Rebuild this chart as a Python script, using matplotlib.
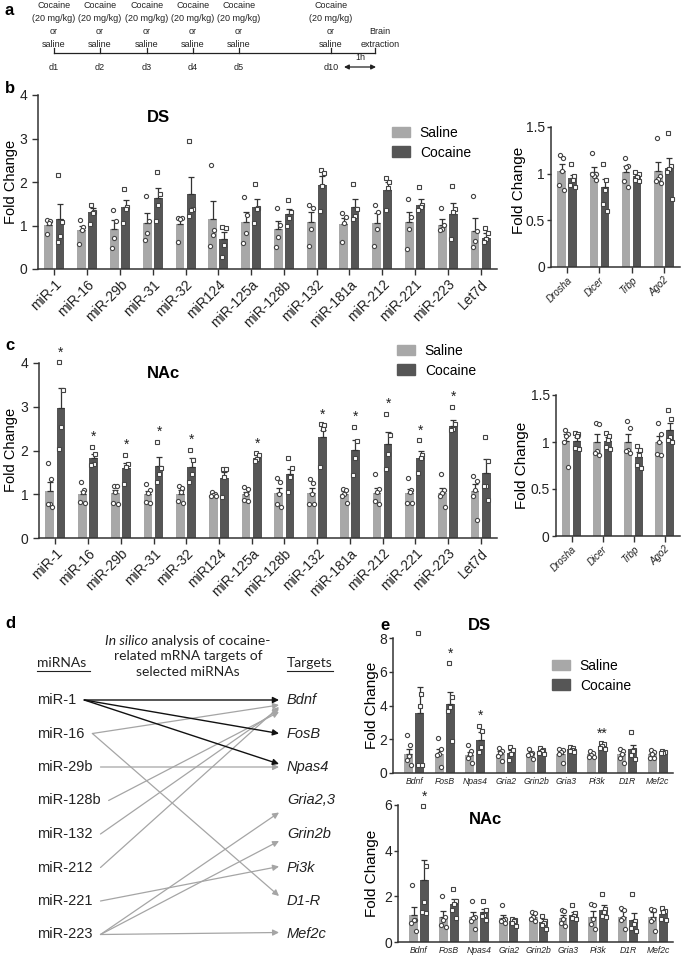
import numpy as np
import matplotlib.pyplot as plt
from matplotlib.patches import Patch

plt.rcParams['font.family'] = ['Liberation Sans', 'DejaVu Sans']

W, H = 685, 956
SAL = '#a8a8a8'
COC = '#565656'
AXC = '#333333'

# ---------------- panel b: DS miRNAs ----------------
mirnas = ['miR-1', 'miR-16', 'miR-29b', 'miR-31', 'miR-32', 'miR124', 'miR-125a',
          'miR-128b', 'miR-132', 'miR-181a', 'miR-212', 'miR-221', 'miR-223', 'Let7d']

ds_sal_mean = [1.02, 0.90, 0.92, 1.06, 1.03, 1.14, 1.08, 0.91, 1.08, 1.04, 1.06, 1.09, 1.01, 0.88]
ds_sal_sem = [0.07, 0.09, 0.20, 0.22, 0.12, 0.43, 0.24, 0.20, 0.22, 0.13, 0.22, 0.21, 0.14, 0.29]
ds_sal_pts = [[1.12, 1.10, 1.05, 0.81], [1.13, 0.97, 0.90, 0.57], [1.35, 1.10, 0.72, 0.48],
              [1.67, 1.10, 0.82, 0.67], [1.18, 1.18, 1.15, 0.63], [2.38, 0.89, 0.78, 0.52],
              [1.66, 1.25, 0.82, 0.60], [1.40, 1.02, 0.73, 0.50], [1.47, 1.40, 0.91, 0.54],
              [1.28, 1.20, 1.06, 0.63], [1.47, 1.32, 0.93, 0.54], [1.60, 1.20, 0.93, 0.45],
              [1.40, 1.02, 0.92, 0.90], [1.67, 0.88, 0.65, 0.50]]
ds_coc_mean = [1.15, 1.30, 1.42, 1.64, 1.72, 0.68, 1.43, 1.27, 1.92, 1.43, 1.82, 1.46, 1.26, 0.71]
ds_coc_sem = [0.35, 0.10, 0.16, 0.23, 0.40, 0.16, 0.19, 0.10, 0.21, 0.18, 0.18, 0.15, 0.26, 0.11]
ds_coc_pts = [[2.16, 1.08, 0.75, 0.63], [1.47, 1.32, 1.28, 1.03], [1.85, 1.42, 1.38, 1.05],
              [2.23, 1.72, 1.48, 1.11], [2.94, 1.38, 1.35, 1.22], [0.97, 0.94, 0.55, 0.27],
              [1.95, 1.40, 1.38, 1.05], [1.58, 1.32, 1.17, 1.00], [2.27, 2.20, 1.90, 1.33],
              [1.96, 1.39, 1.22, 1.16], [2.09, 1.99, 1.87, 1.36], [1.88, 1.48, 1.42, 1.35],
              [1.91, 1.37, 1.30, 0.68], [0.94, 0.82, 0.70, 0.62]]

# ---------------- panel c: NAc miRNAs ----------------
nac_sal_mean = [1.07, 1.00, 1.02, 1.00, 1.01, 0.99, 1.00, 1.03, 1.02, 1.00, 1.02, 1.02, 1.03, 1.07]
nac_sal_sem = [0.20, 0.08, 0.08, 0.08, 0.08, 0.02, 0.06, 0.12, 0.12, 0.07, 0.12, 0.11, 0.12, 0.17]
nac_sal_pts = [[1.72, 1.35, 0.78, 0.77, 0.72], [1.27, 1.10, 1.05, 0.82, 0.80], [1.20, 1.20, 1.05, 0.80, 0.78],
               [1.24, 1.10, 1.02, 0.82, 0.80], [1.20, 1.15, 1.05, 0.85, 0.80], [1.05, 1.00, 0.98, 0.97, 0.95],
               [1.16, 1.12, 1.00, 0.88, 0.85], [1.37, 1.27, 1.00, 0.78, 0.72], [1.34, 1.25, 1.00, 0.77, 0.77],
               [1.13, 1.10, 1.00, 0.95, 0.80], [1.47, 1.13, 1.05, 0.85, 0.78], [1.38, 1.10, 1.05, 0.80, 0.80],
               [1.47, 1.10, 1.02, 0.95, 0.72], [1.42, 1.30, 1.10, 0.97, 0.42]]
nac_coc_mean = [2.98, 1.82, 1.60, 1.64, 1.63, 1.38, 1.83, 1.47, 2.32, 2.01, 2.15, 1.84, 2.55, 1.48]
nac_coc_sem = [0.46, 0.11, 0.11, 0.21, 0.19, 0.13, 0.07, 0.11, 0.14, 0.23, 0.27, 0.15, 0.15, 0.32]
nac_coc_pts = [[4.02, 3.38, 2.53, 2.03], [2.08, 1.92, 1.70, 1.68], [1.90, 1.70, 1.62, 1.24],
               [2.20, 1.60, 1.47, 1.29], [2.02, 1.78, 1.47, 1.27], [1.58, 1.58, 1.40, 0.93],
               [1.94, 1.90, 1.80, 1.77], [1.84, 1.60, 1.40, 1.05], [2.60, 2.58, 2.50, 1.63],
               [2.54, 2.22, 1.82, 1.45], [2.84, 2.35, 1.92, 1.58], [2.23, 1.90, 1.83, 1.48],
               [3.00, 2.60, 2.50, 2.48], [2.32, 1.75, 1.20, 1.20, 0.88]]
nac_stars = ['*', '*', '*', '*', '*', '', '*', '', '*', '*', '*', '*', '*', '']

# ---------------- right panels: miRNA machinery ----------------
enzymes = ['Drosha', 'Dicer', 'Trbp', 'Ago2']
ds_enz_sal_mean = [1.03, 1.02, 1.02, 1.03]
ds_enz_sal_sem = [0.07, 0.05, 0.06, 0.09]
ds_enz_sal_pts = [[1.20, 1.17, 1.03, 0.88, 0.83], [1.22, 1.00, 0.98, 1.00, 0.93],
                  [1.17, 1.08, 1.07, 0.92, 0.86], [1.38, 0.98, 0.94, 0.92, 0.90]]
ds_enz_coc_mean = [0.95, 0.86, 0.98, 1.06]
ds_enz_coc_sem = [0.04, 0.08, 0.03, 0.11]
ds_enz_coc_pts = [[1.10, 0.97, 0.93, 0.88, 0.86], [1.10, 0.93, 0.82, 0.68, 0.60],
                  [1.02, 1.00, 0.96, 0.93, 0.92], [1.44, 1.08, 1.05, 1.02, 0.73]]

nac_enz_sal_mean = [1.01, 1.00, 1.00, 1.00]
nac_enz_sal_sem = [0.08, 0.08, 0.08, 0.06]
nac_enz_sal_pts = [[1.13, 1.08, 1.06, 1.00, 0.73], [1.20, 1.19, 0.90, 0.88, 0.86],
                   [1.22, 1.15, 0.92, 0.90, 0.88], [1.20, 1.08, 1.00, 0.87, 0.86]]
nac_enz_coc_mean = [1.01, 1.01, 0.84, 1.13]
nac_enz_coc_sem = [0.04, 0.04, 0.05, 0.07]
nac_enz_coc_pts = [[1.10, 1.08, 1.06, 0.94, 0.93], [1.10, 1.06, 1.02, 0.95, 0.93],
                   [0.96, 0.92, 0.86, 0.76, 0.72], [1.34, 1.25, 1.05, 1.02, 1.00]]

# ---------------- panel e: target mRNAs ----------------
genes = ['Bdnf', 'FosB', 'Npas4', 'Gria2', 'Grin2b', 'Gria3', 'Pi3k', 'D1R', 'Mef2c']
e_ds_sal_mean = [1.15, 1.15, 1.09, 1.15, 1.15, 1.15, 1.10, 1.15, 1.10]
e_ds_sal_sem = [0.30, 0.30, 0.18, 0.14, 0.12, 0.15, 0.08, 0.15, 0.08]
e_ds_sal_pts = [[2.25, 1.65, 1.00, 0.75, 0.50], [2.10, 1.45, 1.10, 1.05, 0.35], [1.65, 1.30, 1.15, 0.90, 0.60],
                [1.50, 1.30, 1.20, 1.00, 0.70], [1.45, 1.20, 1.10, 1.05, 0.85], [1.40, 1.35, 1.25, 1.10, 0.60],
                [1.30, 1.20, 1.05, 0.95, 0.95], [1.45, 1.30, 1.10, 0.90, 0.60], [1.35, 1.25, 1.10, 0.90, 0.90]]
e_ds_coc_mean = [3.57, 4.07, 1.98, 1.19, 1.30, 1.40, 1.60, 1.40, 1.25]
e_ds_coc_sem = [1.50, 0.75, 0.45, 0.18, 0.10, 0.10, 0.08, 0.28, 0.05]
e_ds_coc_pts = [[8.30, 4.70, 4.00, 0.45, 0.45], [6.50, 4.50, 3.90, 3.70, 1.90], [2.80, 2.50, 1.55, 1.25],
                [1.55, 1.35, 1.10, 0.80], [1.50, 1.35, 1.30, 1.20, 1.15], [1.55, 1.50, 1.35, 1.30, 1.25],
                [1.75, 1.70, 1.60, 1.50, 1.45], [2.45, 1.35, 1.30, 1.05, 0.85], [1.30, 1.25, 1.20, 1.20]]
e_ds_stars = ['', '*', '*', '', '', '', '**', '', '']

e_nac_sal_mean = [1.17, 1.10, 1.10, 1.05, 1.10, 1.05, 1.10, 1.10, 1.10]
e_nac_sal_sem = [0.37, 0.25, 0.20, 0.15, 0.15, 0.15, 0.25, 0.25, 0.20]
e_nac_sal_pts = [[2.50, 0.95, 0.95, 0.85, 0.50], [2.03, 1.10, 0.95, 0.75, 0.65], [1.80, 1.10, 1.05, 0.90, 0.55],
                 [1.60, 1.00, 0.95, 0.90, 0.85], [1.30, 1.25, 1.10, 1.00, 0.90], [1.40, 1.35, 1.00, 0.85, 0.70],
                 [1.65, 1.60, 1.00, 0.80, 0.55], [1.50, 1.40, 1.05, 0.95, 0.55], [1.45, 1.40, 1.00, 0.90, 0.50]]
e_nac_coc_mean = [2.70, 1.68, 1.30, 0.90, 0.88, 1.20, 1.42, 0.98, 1.22]
e_nac_coc_sem = [0.90, 0.22, 0.15, 0.08, 0.12, 0.10, 0.18, 0.30, 0.13]
e_nac_coc_pts = [[5.95, 3.35, 1.75, 1.30, 1.25], [2.30, 1.80, 1.65, 1.40, 1.05], [1.80, 1.40, 1.20, 1.15, 0.95],
                 [1.00, 0.95, 0.90, 0.85, 0.70], [1.15, 0.90, 0.85, 0.75, 0.55], [1.60, 1.25, 1.15, 1.05, 1.00],
                 [2.10, 1.45, 1.30, 1.15, 1.10], [2.10, 0.90, 0.80, 0.60, 0.50], [1.50, 1.35, 1.30, 1.00, 0.95]]
e_nac_stars = ['*', '', '', '', '', '', '', '', '']

# ---------------- panel a: schedule ----------------
a_days = ['d1', 'd2', 'd3', 'd4', 'd5', 'd10']
a_day_x = [54, 100, 147, 193, 239, 331]
a_end_x = 375
a_lines = ['Cocaine', '(20 mg/kg)', 'or', 'saline']

# ---------------- panel d: in silico targets ----------------
d_mirnas = ['miR-1', 'miR-16', 'miR-29b', 'miR-128b', 'miR-132', 'miR-212', 'miR-221', 'miR-223']
d_targets = ['Bdnf', 'FosB', 'Npas4', 'Gria2,3', 'Grin2b', 'Pi3k', 'D1-R', 'Mef2c']
# (source, target, black?, end offset px)
d_links = [(0, 0, True, 0), (0, 1, True, 0), (0, 2, True, -3),
           (1, 0, False, 5), (1, 6, False, -5), (2, 2, False, 0),
           (3, 0, False, 12), (4, 0, False, 9), (5, 0, False, 7),
           (6, 5, False, -1), (7, 3, False, 12), (7, 4, False, 7), (7, 7, False, -2)]
d_title_rest = ['related mRNA targets of', 'selected miRNAs']
LATO = ['Lato', 'DejaVu Sans']


def px_ax(l, t, r, b):
    return fig.add_axes([l / W, 1 - b / H, (r - l) / W, (b - t) / H])


def ftext(x, y, s, **kw):
    fig.text(x / W, 1 - y / H, s, **kw)


def bar_panel(ax, labels, sm, se, sp, cm, ce, cp, ymax, yticks, yticklabels=None,
              stars=None, rot=45, lsize=10, italic=False, off=0.17, bw=0.27, xlo=-0.5):
    x = np.arange(len(labels))
    n = len(x)
    ax.bar(x - off, sm, bw, color=SAL, zorder=1)
    ax.bar(x + off, cm, bw, color=COC, zorder=1)
    ax.errorbar(x - off, sm, yerr=[np.zeros(n), se], fmt='none', ecolor=AXC,
                elinewidth=0.9, capsize=2, capthick=0.9, zorder=2)
    ax.errorbar(x + off, cm, yerr=[np.zeros(n), ce], fmt='none', ecolor=AXC,
                elinewidth=0.9, capsize=2, capthick=0.9, zorder=2)
    jit = np.array([-0.05, 0.05, 0.0, -0.07, 0.07])
    for i in range(n):
        p = sp[i]
        ax.plot(x[i] - off + jit[:len(p)], p, 'o', ms=3, mfc='white', mec='#444444',
                mew=0.8, zorder=3, clip_on=False)
        p = cp[i]
        ax.plot(x[i] + off + jit[:len(p)], p, 's', ms=2.8, mfc='white', mec='#444444',
                mew=0.8, zorder=3, clip_on=False)
        if stars and stars[i]:
            top = max(max(cp[i]), cm[i] + ce[i])
            ax.annotate(stars[i], (x[i] + off, top), xytext=(0, 7), textcoords='offset points',
                        ha='center', va='center', fontsize=10, color='#222222',
                        annotation_clip=False)
    ax.set_xlim(xlo, n - 0.5)
    ax.set_ylim(0, ymax)
    ax.set_yticks(yticks)
    if yticklabels is not None:
        ax.set_yticklabels(yticklabels)
    ax.set_xticks(x)
    style = 'italic' if italic else 'normal'
    if rot:
        ax.set_xticklabels(labels, rotation=rot, ha='right', rotation_mode='anchor',
                           fontsize=lsize, style=style)
    else:
        ax.set_xticklabels(labels, fontsize=lsize, style=style)
    for s in ['top', 'right']:
        ax.spines[s].set_visible(False)
    for s in ['left', 'bottom']:
        ax.spines[s].set_color(AXC)
        ax.spines[s].set_linewidth(1.1)
    ax.tick_params(colors=AXC, labelcolor='#222222', width=1, length=4, labelsize=10)
    ax.tick_params(axis='x', labelsize=lsize, pad=2)


fig = plt.figure(figsize=(W / 100, H / 100), dpi=100)
ov = fig.add_axes([0, 0, 1, 1])
ov.set_xlim(0, W)
ov.set_ylim(H, 0)
ov.axis('off')

# panel letters
for lab, (lx, ly) in zip('abcde', [(5, 10), (5, 88), (5, 345), (5, 623), (380, 625)]):
    ov.text(lx, ly, lab, fontsize=12, weight='bold', ha='left', va='center')

# ---- a ----
ov.plot([a_day_x[0], a_end_x], [53, 53], color='#222222', lw=0.9)
for xx in a_day_x + [a_end_x]:
    ov.plot([xx, xx], [48, 53], color='#222222', lw=0.9)
for xx, d in zip(a_day_x, a_days):
    for k, s in enumerate(a_lines):
        ov.text(xx, 5 + 13 * k, s, fontsize=6.5, ha='center', va='center', color='#222222')
    ov.text(xx, 67, d, fontsize=6.5, ha='center', va='center', color='#222222')
ov.text(380, 31, 'Brain', fontsize=6.5, ha='center', va='center', color='#222222')
ov.text(380, 44, 'extraction', fontsize=6.5, ha='center', va='center', color='#222222')
ov.annotate('', xy=(344, 67), xytext=(376, 67),
            arrowprops=dict(arrowstyle='<|-|>', color='#222222', lw=0.9, mutation_scale=7,
                            shrinkA=0, shrinkB=0))
ov.text(360, 62, '1h', fontsize=6.5, ha='center', va='bottom', color='#222222')

# ---- b ----
axb = px_ax(38, 95, 497, 269)
bar_panel(axb, mirnas, ds_sal_mean, ds_sal_sem, ds_sal_pts, ds_coc_mean, ds_coc_sem, ds_coc_pts,
          4, [0, 1, 2, 3, 4])
ftext(158, 117, 'DS', fontsize=12, weight='bold', ha='center', va='center')
ftext(11, 182, 'Fold Change', fontsize=10.5, rotation=90, ha='center', va='center')

axb2 = px_ax(551, 127, 680, 267)
bar_panel(axb2, enzymes, ds_enz_sal_mean, ds_enz_sal_sem, ds_enz_sal_pts, ds_enz_coc_mean,
          ds_enz_coc_sem, ds_enz_coc_pts, 1.5, [0, 0.5, 1, 1.5], ['0', '0.5', '1', '1.5'],
          lsize=7, italic=True)
ftext(519, 190, 'Fold Change', fontsize=11, rotation=90, ha='center', va='center')

handles = [Patch(color=SAL, label='Saline'), Patch(color=COC, label='Cocaine')]
leg_kw = dict(loc='upper left', frameon=False, fontsize=10, borderpad=0, borderaxespad=0,
              handlelength=1.3, handleheight=0.8, handletextpad=0.7, labelspacing=0.4)
fig.legend(handles=handles, bbox_to_anchor=(392 / W, 1 - 126 / H), **leg_kw)

# ---- c ----
axc = px_ax(39, 363, 497, 538)
bar_panel(axc, mirnas, nac_sal_mean, nac_sal_sem, nac_sal_pts, nac_coc_mean, nac_coc_sem,
          nac_coc_pts, 4, [0, 1, 2, 3, 4], stars=nac_stars)
ftext(163, 374, 'NAc', fontsize=12, weight='bold', ha='center', va='center')
ftext(11, 450, 'Fold Change', fontsize=10.5, rotation=90, ha='center', va='center')

axc2 = px_ax(556, 395, 680, 536)
bar_panel(axc2, enzymes, nac_enz_sal_mean, nac_enz_sal_sem, nac_enz_sal_pts, nac_enz_coc_mean,
          nac_enz_coc_sem, nac_enz_coc_pts, 1.5, [0, 0.5, 1, 1.5], ['0', '0.5', '1', '1.5'],
          lsize=7, italic=True)
ftext(522, 465, 'Fold Change', fontsize=11, rotation=90, ha='center', va='center')
fig.legend(handles=handles, bbox_to_anchor=(397 / W, 1 - 344 / H), **leg_kw)
for a_ in (axb2, axc2):
    a_.tick_params(axis='y', length=3, pad=1.5)

# ---- e ----
axe1 = px_ax(393, 638, 673, 773)
bar_panel(axe1, genes, e_ds_sal_mean, e_ds_sal_sem, e_ds_sal_pts, e_ds_coc_mean, e_ds_coc_sem,
          e_ds_coc_pts, 8, [0, 2, 4, 6, 8], stars=e_ds_stars, rot=0, lsize=6.2, italic=True,
          off=0.18, bw=0.3, xlo=-0.7)
ftext(479, 626, 'DS', fontsize=12, weight='bold', ha='center', va='center')
ftext(372, 705, 'Fold Change', fontsize=11, rotation=90, ha='center', va='center')
fig.legend(handles=handles, bbox_to_anchor=(552 / W, 1 - 659 / H), **leg_kw)

axe2 = px_ax(398, 805, 673, 942)
bar_panel(axe2, genes, e_nac_sal_mean, e_nac_sal_sem, e_nac_sal_pts, e_nac_coc_mean,
          e_nac_coc_sem, e_nac_coc_pts, 6, [0, 2, 4, 6], stars=e_nac_stars, rot=0, lsize=6.2,
          italic=True, off=0.18, bw=0.3, xlo=-0.7)
ftext(485, 820, 'NAc', fontsize=12, weight='bold', ha='center', va='center')
ftext(372, 873, 'Fold Change', fontsize=11, rotation=90, ha='center', va='center')
for a_ in (axe1, axe2):
    a_.tick_params(axis='x', length=0, pad=3)
    a_.tick_params(axis='y', length=3, pad=1)

# ---- d ----
row_y = [700 + 33.5 * i for i in range(len(d_mirnas))]
ov.text(37, 663, 'miRNAs', fontsize=10, family=LATO, ha='left', va='center', color='#222222')
ov.plot([37, 90], [671, 671], color='#222222', lw=0.8)
ov.text(287, 663, 'Targets', fontsize=10, family=LATO, ha='left', va='center', color='#222222')
ov.plot([287, 333], [671, 671], color='#222222', lw=0.8)

title_y = [641, 656, 672]
t_it = ov.text(0, title_y[0], 'In silico', fontsize=10, family=LATO, style='italic',
               ha='left', va='center', color='#222222')
t_rest = ov.text(0, title_y[0], ' analysis of cocaine-', fontsize=10, family=LATO,
                 ha='left', va='center', color='#222222')
for s, yy in zip(d_title_rest, title_y[1:]):
    ov.text(188, yy, s, fontsize=10, family=LATO, ha='center', va='center', color='#222222')

src_txt = []
for name, yy in zip(d_mirnas, row_y):
    src_txt.append(ov.text(37, yy, name, fontsize=10.5, ha='left', va='center', color='#222222'))
for name, yy in zip(d_targets, row_y):
    ov.text(287, yy, name, fontsize=10.5, style='italic', ha='left', va='center', color='#222222')

fig.canvas.draw()
rend = fig.canvas.get_renderer()
w1 = t_it.get_window_extent(rend).width
w2 = t_rest.get_window_extent(rend).width
x_start = 188 - (w1 + w2) / 2
t_it.set_x(x_start)
t_rest.set_x(x_start + w1)

for s, t, black, dy in d_links:
    x0 = src_txt[s].get_window_extent(rend).x1 + 8
    col = '#111111' if black else '#a5a5a5'
    ov.annotate('', xy=(279, row_y[t] + dy), xytext=(x0, row_y[s]),
                arrowprops=dict(arrowstyle='-|>', color=col, lw=1.0 if black else 0.9,
                                mutation_scale=9, shrinkA=0, shrinkB=0),
                zorder=3 if black else 2)

fig.savefig('out.png', dpi=100, facecolor='white')
